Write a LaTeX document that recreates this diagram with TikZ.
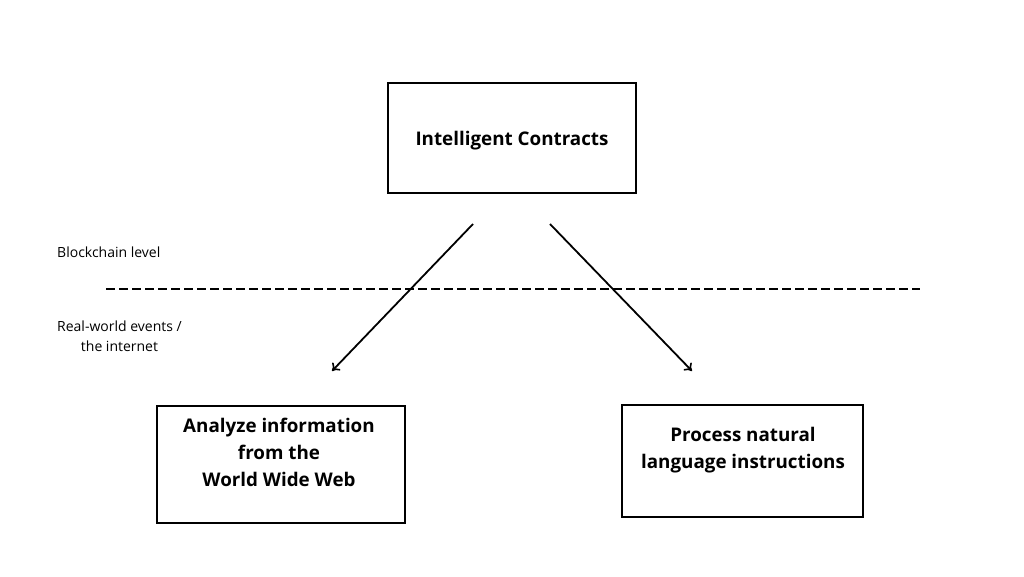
\documentclass[tikz,border=0pt]{standalone}
\usepackage{fontspec}
\setmainfont{Open Sans}
\usetikzlibrary{arrows.meta}
\begin{document}
\begin{tikzpicture}[x=1pt,y=-1pt,
  box/.style={draw=black,line width=2.8pt,minimum width=#1,inner sep=0pt},
  boxtext/.style={font=\fontsize{18.8}{27}\selectfont\bfseries,align=center,inner sep=0pt},
  side/.style={font=\fontsize{14}{19.5}\selectfont,align=center,inner sep=0pt},
  conn/.style={line width=1.8pt,-{To[length=7pt,width=11pt,line width=1.6pt]}}]
\useasboundingbox (0,0) rectangle (1024,576);
\fill[white] (0,0) rectangle (1024,576);
\node[box=248pt,minimum height=110pt] (top) at (512,138) {};
\node[box=248pt,minimum height=117pt] (left) at (281,464.5) {};
\node[box=241pt,minimum height=112pt] (right) at (742.5,461) {};
\node[boxtext] (toptext) at (512,141) {Intelligent Contracts};
\node[boxtext] (lefttext) at (279,452) {Analyze information\\from the\\World Wide Web};
\node[boxtext] (righttext) at (743,450) {Process natural\\language instructions};
\node[side,anchor=west] (blk) at (57,252) {Blockchain level};
\node[side,anchor=west] (real) at (57,336) {Real-world events /\\the internet};
\coordinate (ls) at (473,224);
\coordinate (le) at (332,371);
\coordinate (rs) at (550,224);
\coordinate (re) at (692,371);
\coordinate (d1) at (106,289);
\coordinate (d2) at (920,289);
\draw[line width=2pt,dash pattern=on 9pt off 4pt] (d1) -- (d2);
\draw[conn] (ls) -- (le);
\draw[conn] (rs) -- (re);
\end{tikzpicture}
\end{document}
